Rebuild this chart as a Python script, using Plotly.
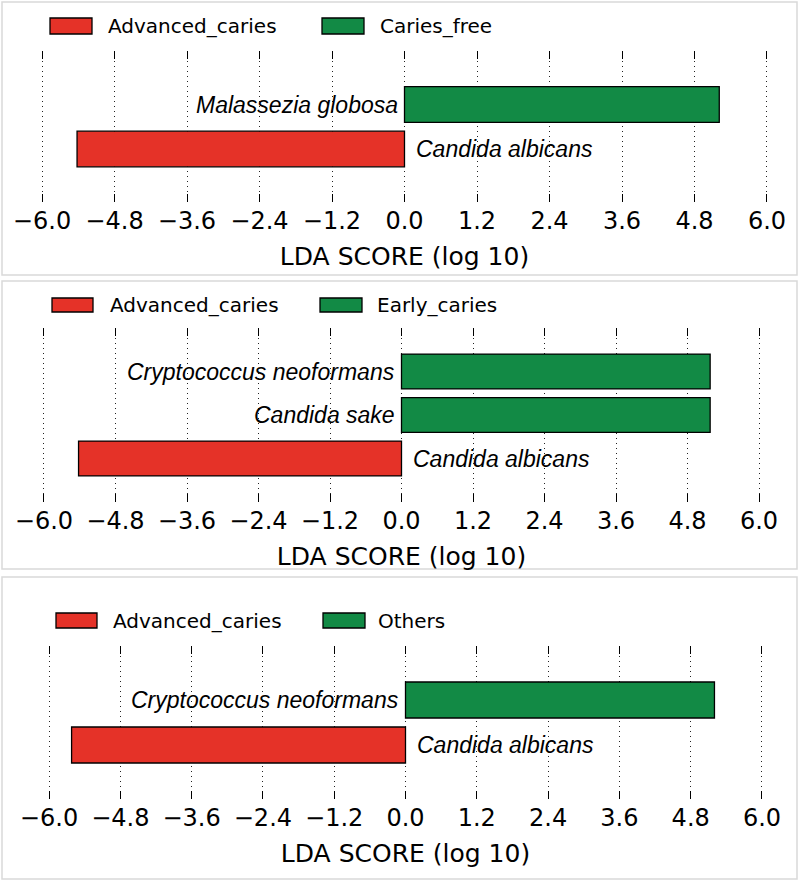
import plotly.graph_objects as go

# ---------------- data ----------------
tick_values = [-6.0, -4.8, -3.6, -2.4, -1.2, 0.0, 1.2, 2.4, 3.6, 4.8, 6.0]
tick_labels = ["\u22126.0", "\u22124.8", "\u22123.6", "\u22122.4", "\u22121.2",
               "0.0", "1.2", "2.4", "3.6", "4.8", "6.0"]
axis_title = "LDA SCORE (log 10)"

panel1_classes = ["Advanced_caries", "Caries_free"]
panel1_species = ["Candida albicans", "Malassezia globosa"]
panel1_scores = [-5.42, 5.21]
panel1_groups = ["Advanced_caries", "Caries_free"]

panel2_classes = ["Advanced_caries", "Early_caries"]
panel2_species = ["Candida albicans", "Candida sake", "Cryptococcus neoformans"]
panel2_scores = [-5.42, 5.18, 5.18]
panel2_groups = ["Advanced_caries", "Early_caries", "Early_caries"]

panel3_classes = ["Advanced_caries", "Others"]
panel3_species = ["Candida albicans", "Cryptococcus neoformans"]
panel3_scores = [-5.62, 5.20]
panel3_groups = ["Advanced_caries", "Others"]

# ---------------- style / layout ----------------
W, H = 800, 881
RED = "#E53228"
GREEN = "#128A45"
class_colors = [RED, GREEN]


def px_x(v):
    return v / W


def px_y(v):
    return (H - v) / H


panels = [
    dict(classes=panel1_classes, species=panel1_species, scores=panel1_scores, groups=panel1_groups,
         xdom=(11.8, 797.2), ydom=(202.4, 51.1), yrange=[-1.2, 2.2],
         box=(2, 2, 797, 275), legend_y=(18, 34), sw_red=(50, 92), sw_green=(322, 364),
         txt=(106, 378)),
    dict(classes=panel2_classes, species=panel2_species, scores=panel2_scores, groups=panel2_groups,
         xdom=(14.2, 788.8), ydom=(502, 328), yrange=[-1.0, 3.0],
         box=(2, 281, 797, 569), legend_y=(298, 312), sw_red=(52, 93), sw_green=(320, 362),
         txt=(108, 375)),
    dict(classes=panel3_classes, species=panel3_species, scores=panel3_scores, groups=panel3_groups,
         xdom=(19.3, 791.7), ydom=(799, 646), yrange=[-1.2, 2.2],
         box=(2, 577, 797, 879), legend_y=(613, 628), sw_red=(56, 97), sw_green=(323, 365),
         txt=(111, 376)),
]

fig = go.Figure()
shapes = []
annotations = []

for i, p in enumerate(panels, start=1):
    xa = "x" if i == 1 else f"x{i}"
    ya = "y" if i == 1 else f"y{i}"
    for ci, cls in enumerate(p["classes"]):
        xs = [s for s, g in zip(p["scores"], p["groups"]) if g == cls]
        ys = [n for n, g in zip(p["species"], p["groups"]) if g == cls]
        fig.add_trace(go.Bar(
            x=xs, y=ys, orientation="h", width=0.8,
            marker=dict(color=class_colors[ci], line=dict(color="black", width=1.3)),
            name=cls, showlegend=False, xaxis=xa, yaxis=ya,
        ))
    # species labels
    for name, score in zip(p["species"], p["scores"]):
        annotations.append(dict(
            x=0, y=name, xref=xa, yref=ya, text=name, showarrow=False,
            xanchor="right" if score > 0 else "left",
            xshift=-5 if score > 0 else 9,
            font=dict(family="Liberation Sans, Arial", size=23, color="black", style="italic"),
        ))
    # axes
    xkey = "xaxis" if i == 1 else f"xaxis{i}"
    ykey = "yaxis" if i == 1 else f"yaxis{i}"
    fig.update_layout(**{
        xkey: dict(
            domain=[px_x(p["xdom"][0]), px_x(p["xdom"][1])], anchor=ya,
            range=[-6.5, 6.5], tickvals=tick_values, ticktext=tick_labels,
            ticks="inside", ticklen=8, tickwidth=1.2, tickcolor="black", mirror="ticks",
            showline=False, zeroline=False,
            showgrid=True, gridcolor="#222222", griddash="1px,4px", gridwidth=1.2,
            tickfont=dict(family="DejaVu Sans", size=24, color="black"),
            ticklabelstandoff=2,
            title=dict(text=axis_title, font=dict(family="DejaVu Sans", size=25, color="black"),
                       standoff=13),
            fixedrange=True,
        ),
        ykey: dict(
            domain=[px_y(p["ydom"][0]), px_y(p["ydom"][1])], anchor=xa,
            type="category", categoryorder="array", categoryarray=p["species"],
            range=p["yrange"], showticklabels=False, showgrid=False, zeroline=False,
            ticks="", showline=False, fixedrange=True,
        ),
    })
    # panel frame
    bx0, by0, bx1, by1 = p["box"]
    shapes.append(dict(type="rect", xref="paper", yref="paper",
                       x0=px_x(bx0), x1=px_x(bx1), y0=px_y(by1), y1=px_y(by0),
                       line=dict(color="#d9d9d9", width=1.5), fillcolor="rgba(0,0,0,0)",
                       layer="below"))
    # legend
    ly0, ly1 = p["legend_y"]
    for ci, (sw, tx) in enumerate(zip([p["sw_red"], p["sw_green"]], p["txt"])):
        shapes.append(dict(type="rect", xref="paper", yref="paper",
                           x0=px_x(sw[0]), x1=px_x(sw[1]), y0=px_y(ly1), y1=px_y(ly0),
                           line=dict(color="black", width=1.3), fillcolor=class_colors[ci]))
        annotations.append(dict(
            x=px_x(tx), y=px_y((ly0 + ly1) / 2), xref="paper", yref="paper",
            text=p["classes"][ci], showarrow=False, xanchor="left", yanchor="middle",
            font=dict(family="DejaVu Sans", size=20, color="black"),
        ))

fig.update_layout(
    width=W, height=H, margin=dict(l=0, r=0, t=0, b=0),
    paper_bgcolor="white", plot_bgcolor="white",
    barmode="overlay", showlegend=False,
    shapes=shapes, annotations=annotations,
)

fig.write_html("out.html", config={"displayModeBar": False},
               post_script="document.body.style.margin='0px';")
